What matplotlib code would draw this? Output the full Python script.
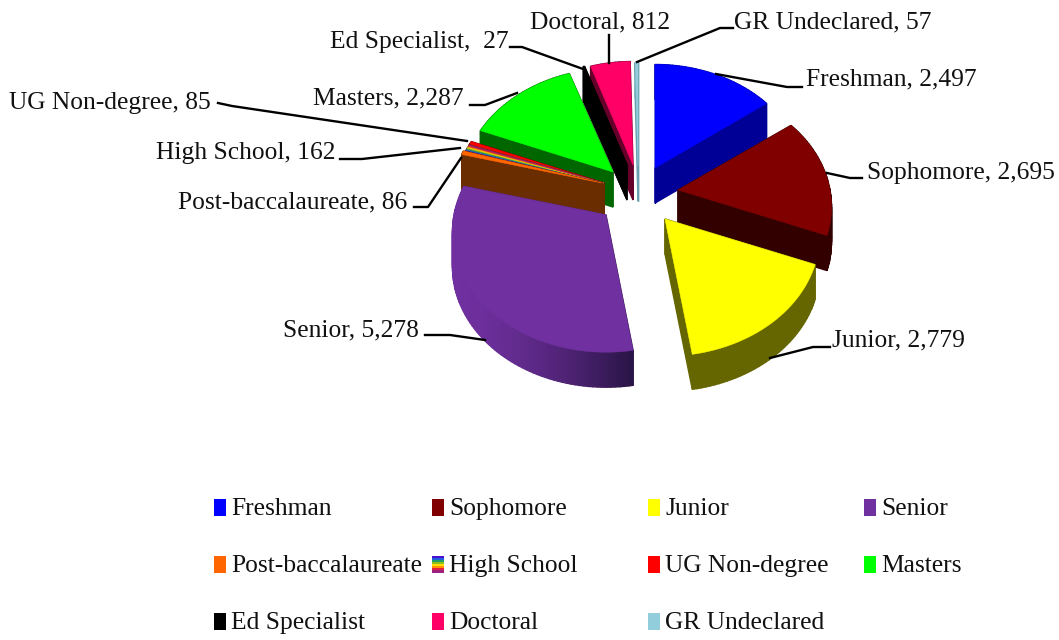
import numpy as np
import matplotlib
matplotlib.use("Agg")
import matplotlib.pyplot as plt
from matplotlib.patches import Polygon, Rectangle

plt.rcParams['font.family'] = ['Liberation Serif', 'DejaVu Serif']

# ---- data ----
categories = ["Freshman", "Sophomore", "Junior", "Senior", "Post-baccalaureate", "High School",
              "UG Non-degree", "Masters", "Ed Specialist", "Doctoral", "GR Undeclared"]
values = [2497, 2695, 2779, 5278, 86, 162, 85, 2287, 27, 812, 57]
value_text = ["2,497", "2,695", "2,779", "5,278", "86", "162", "85", "2,287", "27", "812", "57"]

# ---- styles ----
top_colors = ["#0000ff", "#800000", "#ffff00", "#7030a0", "#ff6600", "#3333cc",
              "#ff0000", "#00ff00", "#000000", "#ff0066", "#92cddc"]
wall_colors = ["#000096", "#330000", "#666600", "#7030a0", "#692d00", "#692d00",
               "#660000", "#006600", "#000000", "#66002a", "#6a9fb0"]
rainbow = ["#4b0fd0", "#2060e0", "#20a060", "#90c020", "#ffe000", "#ff9000", "#e02040", "#a02080"]

# slice apex on the canvas (explosion) and per-slice horizontal radius
apex = [(655, 168), (678, 190), (665, 219), (606, 215), (602, 183), (604, 183), (604, 183),
        (613, 172), (627, 165), (633, 165), (638, 166)]
radius_x = [150, 152, 153, 152, 150, 150, 150, 150, 150, 150, 150]
K, S, DEPTH = 0.14, 118.0, 35.0


def project(theta, ctr, R):
    """Perspective projection of a tilted circle; theta clockwise from top."""
    x, y = np.sin(theta), np.cos(theta)
    w = 1 + K * y
    return np.column_stack([ctr[0] + R * x / w, ctr[1] - S * y / w])


def arc(a0, a1, ctr, R):
    n = max(3, int(abs(a1 - a0) * 40))
    return project(np.linspace(a0, a1, n), ctr, R)


fig = plt.figure(figsize=(10.59, 6.40), dpi=100)
ax = fig.add_axes([0, 0, 1, 1])
ax.set_xlim(0, 1059)
ax.set_ylim(640, 0)
ax.axis("off")

edges = np.concatenate([[0], np.cumsum(values)]) / np.sum(values) * 2 * np.pi
order = [10, 9, 8, 7, 6, 5, 4, 0, 1, 2, 3]
z = 2
for i in order:
    a0, a1 = edges[i], edges[i + 1]
    ctr = apex[i]
    R = radius_x[i]
    pts = arc(a0, a1, ctr, R)
    outline = np.vstack([[ctr], pts])
    # side walls
    n = len(outline)
    for j in range(n):
        p, q = outline[j], outline[(j + 1) % n]
        c = wall_colors[i]
        if i == 3:
            t = np.clip((0.5 * (p[0] + q[0]) - 452) / 182, 0, 1) ** 1.6
            c0, c1 = np.array([112, 48, 160]), np.array([40, 20, 68])
            c = tuple((c0 + (c1 - c0) * t) / 255)
        quad = [p, q, q + [0, DEPTH], p + [0, DEPTH]]
        ax.add_patch(Polygon(quad, closed=True, fc=c, ec=c, lw=1.0, zorder=z))
    z += 1
    # top face
    if categories[i] == "High School":
        sub = np.linspace(a0, a1, len(rainbow) + 1)
        for k, c in enumerate(rainbow):
            poly = np.vstack([[ctr], project(np.array([sub[k], sub[k + 1]]), ctr, R)])
            ax.add_patch(Polygon(poly, closed=True, fc=c, ec=c, lw=0.2, zorder=z))
    else:
        ax.add_patch(Polygon(outline, closed=True, fc=top_colors[i], ec=top_colors[i], lw=0.4, zorder=z))
    z += 1

# ---- data labels ----
label_text = [f"{c}, {v}" for c, v in zip(categories, value_text)]
label_text[8] = "Ed Specialist,  27"
label_pos = [(806, 79), (867, 173), (832, 340), (283, 330), (178, 202), (156, 153),
             (9, 103), (313, 98), (330, 42), (530, 22), (734, 22)]
for s, (x, y) in zip(label_text, label_pos):
    ax.text(x, y, s, fontsize=18.4, color="#111111", ha="left", va="center", zorder=60)

leaders = [
    [(716, 74), (787, 87), (802, 87)],
    [(827, 173), (850, 178), (862, 178)],
    [(770, 358), (813, 347), (830, 347)],
    [(425, 335), (450, 335), (485, 340)],
    [(414, 207), (428, 207), (461, 158)],
    [(340, 159), (362, 159), (460, 148)],
    [(218, 103), (232, 106), (467, 141)],
    [(470, 105), (485, 105), (517, 93)],
    [(510, 47), (522, 47), (583, 69)],
    [(609, 35), (609, 63)],
    [(637, 62), (720, 28), (733, 28)],
]
for line in leaders:
    xs, ys = zip(*line)
    ax.plot(xs, ys, color="black", lw=1.7, zorder=50, solid_joinstyle="round")

# ---- legend ----
col_x = [214, 432, 648, 864]
row_y = [507, 564, 621]
for i, name in enumerate(categories):
    r, c = divmod(i, 4)
    x, y = col_x[c], row_y[r]
    if name == "High School":
        h = 17 / len(rainbow)
        for k, col in enumerate(rainbow):
            ax.add_patch(Rectangle((x, y - 8.5 + k * h), 12, h, fc=col, ec=col, lw=0, zorder=40))
    else:
        ax.add_patch(Rectangle((x, y - 8.5), 12, 17, fc=top_colors[i], ec=top_colors[i], lw=0, zorder=40))
    ax.text(x + 17, y + 2, name, fontsize=18.4, color="#111111", ha="left", va="center", zorder=60)

fig.savefig("out.png", dpi=100, facecolor="white")
